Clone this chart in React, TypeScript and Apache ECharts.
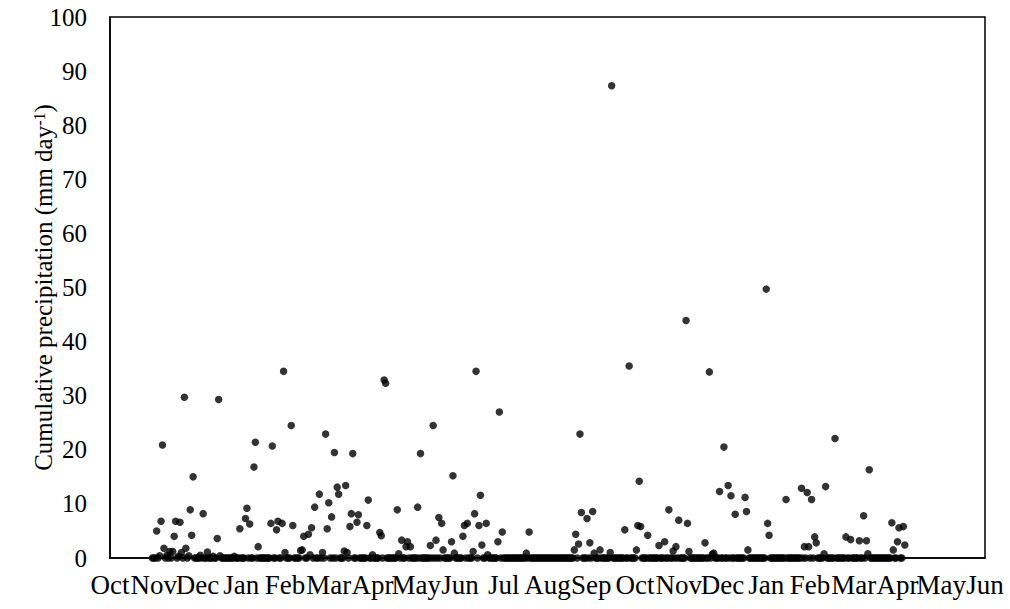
import React, { useEffect, useRef } from "react";
import * as echarts from "echarts";

// Month tick labels along the time axis (one tick per month start)
const monthLabels = [
  "Oct", "Nov", "Dec", "Jan", "Feb", "Mar", "Apr", "May", "Jun", "Jul", "Aug",
  "Sep", "Oct", "Nov", "Dec", "Jan", "Feb", "Mar", "Apr", "May", "Jun",
];
const monthDays = [31, 30, 31, 31, 28, 31, 30, 31, 30, 31, 31, 30, 31, 30, 31, 31, 28, 31, 30, 31, 30];

// Daily precipitation (mm/day), one value per observed day
const oct1 = [0];
const nov1 = [0, 0, 5.0, 0, 0.4, 6.8, 20.9, 1.8, 0, 0.5, 0, 1.2, 0, 1.2, 4.0, 6.8, 0, 0.3, 6.6, 1.0, 0, 29.7, 1.8, 0, 0.4, 8.9, 4.2, 15.0, 0, 0];
const dec1 = [0, 0, 0.5, 0, 8.2, 0, 0, 1.1, 0, 0, 0, 0.3, 0, 0, 3.6, 29.3, 0.4, 0, 0, 0, 0, 0, 0, 0, 0, 0, 0.3, 0, 0, 0, 5.4];
const jan1 = [0, 0, 0, 7.3, 9.2, 0, 6.3, 0, 0, 16.8, 21.4, 0, 2.1, 0, 0, 0, 0, 0, 0, 0, 0, 6.4, 20.7, 0, 0, 5.2, 6.8, 0, 0, 6.4, 34.5];
const feb1 = [1.0, 0, 0, 0, 24.5, 6.0, 0, 0, 0, 0, 1.4, 1.5, 4.0, 0, 0, 4.4, 0.6, 5.6, 0, 9.4, 0, 0, 11.8, 0, 1.0, 0, 22.9, 5.4];
const mar1 = [10.2, 0, 7.6, 0, 19.5, 0, 13.1, 11.8, 0, 0, 0, 1.3, 13.4, 1.0, 0, 5.8, 8.2, 19.3, 0, 0, 6.6, 8.0, 0, 0, 0, 0, 0, 6.0, 10.7, 0, 0];
const apr1 = [0.6, 0, 0, 0, 0, 4.7, 4.1, 0, 32.9, 32.3, 0, 0, 0, 0, 0, 0, 0, 8.9, 0.8, 0, 3.3, 0, 0, 2.1, 3.0, 0, 2.1, 0, 0, 0];
const may1 = [0, 9.4, 0, 19.3, 0, 0, 0, 0, 0, 0, 2.3, 0, 24.5, 0, 3.3, 0, 7.5, 0, 6.4, 1.5, 0, 0, 0, 0, 0, 3.0, 15.2, 0.9, 0, 0, 0];
const jun1 = [0, 0, 4.0, 6.0, 0, 6.4, 0, 0, 0, 1.2, 8.2, 34.5, 0, 6.0, 11.6, 2.4, 0, 0, 6.4, 0.6, 0, 0, 0, 0, 0, 0, 3.0, 27.0, 0, 4.8];
const jul1 = [0, 0, 0, 0, 0, 0, 0, 0, 0, 0, 0, 0, 0, 0, 0, 0, 0.9, 0, 4.8, 0, 0, 0, 0, 0, 0, 0, 0, 0, 0, 0, 0];
const aug1 = [0, 0, 0, 0, 0, 0, 0, 0, 0, 0, 0, 0, 0, 0, 0, 0, 0, 0, 0, 1.5, 4.4, 0, 2.6, 22.9, 8.4, 0, 0, 0, 7.3, 0, 2.8];
const sep1 = [0, 8.6, 0.9, 0, 0, 0, 1.5, 0, 0, 0, 0, 0, 0, 1.0, 87.3, 0, 0, 0, 0, 0, 0, 0, 0, 5.2, 0, 0, 35.5, 0, 0, 0];
const oct2 = [0, 1.5, 6.0, 14.2, 5.8, 0, 0, 0, 0, 4.2, 0, 0, 0, 0, 0, 0, 0, 2.3, 0, 0, 0, 3.0, 0, 0, 8.9, 0, 0, 1.3, 0, 2.1, 0];
const nov2 = [7.0, 0, 0, 0, 0, 43.9, 6.4, 1.2, 0, 0, 0, 0, 0, 0, 0, 0, 0, 0, 2.8, 0, 0, 34.4, 0, 0.7, 0.9, 0, 0, 0, 12.3, 0];
const dec2 = [0, 20.5, 0, 0, 13.4, 0, 11.5, 0, 0, 8.1, 0, 0, 0, 0, 0, 0, 11.2, 8.6, 1.5, 0, 0, 0, 0, 0, 0, 0, 0, 0, 0, 0, 0];
const jan2 = [49.7, 6.4, 4.2, 0, 0, 0, 0, 0, 0, 0, 0, 0, 0, 0, 10.8, 0, 0, 0, 0, 0, 0, 0, 0, 0, 0, 12.9, 0, 2.1, 0, 12.1, 2.1];
const feb2 = [0, 10.8, 0, 3.9, 2.8, 0, 0, 0, 0, 0.8, 13.2, 0, 0, 0, 0, 0, 22.1, 0, 0, 0, 0, 0, 0, 3.9, 0, 0, 3.4, 0];
const mar2 = [0, 0, 0, 0, 3.2, 0, 0, 7.8, 0, 3.2, 0.8, 16.3, 0, 0, 0, 0, 0, 0, 0, 0, 0, 0, 0, 0, 0, 0, 0, 6.5, 1.5, 0, 0];
const apr2 = [3.0, 5.6, 0, 0, 5.8, 2.4];

// [month index on the axis, first observed day of that month, daily values]
const records: [number, number, number[]][] = [
  [0, 31, oct1], [1, 1, nov1], [2, 1, dec1], [3, 1, jan1], [4, 1, feb1],
  [5, 1, mar1], [6, 1, apr1], [7, 1, may1], [8, 1, jun1], [9, 1, jul1],
  [10, 1, aug1], [11, 1, sep1], [12, 1, oct2], [13, 1, nov2], [14, 1, dec2],
  [15, 1, jan2], [16, 1, feb2], [17, 1, mar2], [18, 1, apr2],
];

const FONT = '"Times New Roman", "Liberation Serif", serif';

function buildPoints(): [number, number][] {
  const pts: [number, number][] = [];
  records.forEach(([m, first, vals]) => {
    vals.forEach((v, i) => {
      pts.push([m + (first - 1 + i) / monthDays[m], v]);
    });
  });
  return pts;
}

export default function App() {
  const ref = useRef<HTMLDivElement>(null);

  useEffect(() => {
    if (!ref.current) return;
    const chart = echarts.init(ref.current, undefined, { renderer: "svg" });
    chart.setOption({
      animation: false,
      backgroundColor: "#fff",
      grid: {
        left: 110,
        right: 25,
        top: 17,
        bottom: 51,
        show: true,
        borderColor: "#000",
        borderWidth: 1.5,
        containLabel: false,
        outerBoundsMode: "none",
      },
      xAxis: {
        type: "value",
        min: 0,
        max: 20,
        interval: 1,
        splitLine: { show: false },
        axisTick: { show: false },
        axisLine: { show: true, lineStyle: { color: "#000", width: 1.5 } },
        axisLabel: {
          show: true,
          showMinLabel: true,
          showMaxLabel: true,
          hideOverlap: false,
          margin: 13,
          fontSize: 27,
          fontFamily: FONT,
          color: "#000",
          formatter: (v: number) => monthLabels[Math.round(v)] ?? "",
        },
      },
      yAxis: {
        type: "value",
        min: 0,
        max: 100,
        interval: 10,
        splitLine: { show: false },
        axisTick: { show: false },
        axisLine: { show: true, lineStyle: { color: "#000", width: 1.5 } },
        axisLabel: {
          margin: 23,
          fontSize: 25,
          fontFamily: FONT,
          color: "#000",
        },
        name: "{t|Cumulative precipitation (mm day}{s|-1}{t|)}",
        nameLocation: "middle",
        nameRotate: 90,
        nameGap: 54,
        nameMoveOverlap: false,
        nameTextStyle: {
          rich: {
            t: { fontSize: 25, fontFamily: FONT, color: "#000" },
            s: { fontSize: 16, fontFamily: FONT, color: "#000", verticalAlign: "top" },
          },
        },
      },
      series: [
        {
          type: "scatter",
          data: buildPoints(),
          symbol: "circle",
          symbolSize: 7.5,
          itemStyle: { color: "#000" },
          emphasis: { disabled: true },
        },
      ],
    });
    return () => chart.dispose();
  }, []);

  return (
    <div
      ref={ref}
      style={{ position: "fixed", left: 0, top: 0, width: 1010, height: 609, background: "#fff" }}
    />
  );
}
